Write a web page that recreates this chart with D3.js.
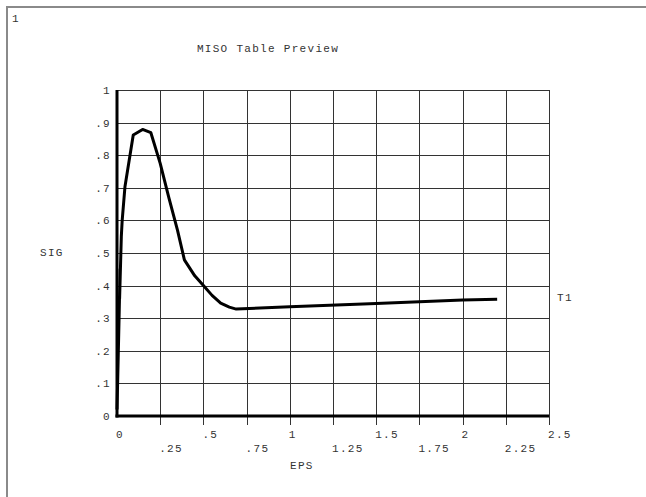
<!DOCTYPE html>
<html>
<head>
<meta charset="utf-8">
<script src="https://cdn.jsdelivr.net/npm/d3@7"></script>
<style>
  html, body { margin: 0; padding: 0; background: #ffffff; }
  text { font-family: "Liberation Mono", "Courier New", monospace; fill: #333; font-size: 11px; letter-spacing: 1.3px; }
</style>
</head>
<body>
<div id="content"></div>
<script>
// Curva MISO (EPS, SIG)
const eps = [0, 0.004, 0.012, 0.018, 0.015, 0.025, 0.03, 0.046, 0.094, 0.148, 0.196, 0.25, 0.3, 0.35, 0.39, 0.45, 0.5, 0.55, 0.6, 0.65, 0.69, 1.0, 1.5, 2.0, 2.2];
const sig = [0.02, 0.11, 0.3, 0.45, 0.36, 0.55, 0.6, 0.703, 0.862, 0.879, 0.869, 0.775, 0.67, 0.57, 0.479, 0.43, 0.4, 0.37, 0.346, 0.334, 0.328, 0.335, 0.345, 0.356, 0.358];

const xTicks = [0, 0.25, 0.5, 0.75, 1, 1.25, 1.5, 1.75, 2, 2.25, 2.5];
const xTickLabels = ['0', '.25', '.5', '.75', '1', '1.25', '1.5', '1.75', '2', '2.25', '2.5'];
const yTicks = [0, 0.1, 0.2, 0.3, 0.4, 0.5, 0.6, 0.7, 0.8, 0.9, 1];
const yTickLabels = ['0', '.1', '.2', '.3', '.4', '.5', '.6', '.7', '.8', '.9', '1'];

const width = 646, height = 497;
const plotLeft = 117, plotRight = 549, plotTop = 90, plotBottom = 416;

const svg = d3.select('#content')
    .append('svg')
    .attr('width', width)
    .attr('height', height);

// Marco gris de la ventana
svg.append('line')
    .attr('x1', 7).attr('y1', 6).attr('x2', 7).attr('y2', height)
    .attr('stroke', '#8a8a8a').attr('stroke-width', 2);
svg.append('line')
    .attr('x1', 6).attr('y1', 7).attr('x2', width).attr('y2', 7)
    .attr('stroke', '#8a8a8a').attr('stroke-width', 2);

const x = d3.scaleLinear().domain([0, 2.5]).range([plotLeft, plotRight]);
const y = d3.scaleLinear().domain([0, 1]).range([plotBottom, plotTop]);

// Rejilla (las verticales bajan un poco como marcas del eje X)
svg.append('g')
    .selectAll('line')
    .data(xTicks)
    .enter()
    .append('line')
    .attr('x1', d => Math.round(x(d)) + 0.5)
    .attr('x2', d => Math.round(x(d)) + 0.5)
    .attr('y1', plotTop)
    .attr('y2', d => d === 0 ? plotBottom : plotBottom + 9)
    .attr('stroke', '#333')
    .attr('stroke-width', 1);

svg.append('g')
    .selectAll('line')
    .data(yTicks)
    .enter()
    .append('line')
    .attr('x1', plotLeft)
    .attr('x2', plotRight)
    .attr('y1', d => Math.round(y(d)) + 0.5)
    .attr('y2', d => Math.round(y(d)) + 0.5)
    .attr('stroke', '#333')
    .attr('stroke-width', 1);

// Ejes gruesos
svg.append('line')
    .attr('x1', x(0)).attr('x2', x(0))
    .attr('y1', plotTop).attr('y2', plotBottom + 1.5)
    .attr('stroke', '#000').attr('stroke-width', 3);
svg.append('line')
    .attr('x1', x(0) - 1.5).attr('x2', plotRight)
    .attr('y1', plotBottom).attr('y2', plotBottom)
    .attr('stroke', '#000').attr('stroke-width', 3);

// Etiquetas del eje Y
svg.append('g')
    .selectAll('text')
    .data(yTicks)
    .enter()
    .append('text')
    .attr('x', plotLeft - 6)
    .attr('y', d => y(d) + 4)
    .attr('text-anchor', 'end')
    .text((d, i) => yTickLabels[i]);

// Etiquetas del eje X (alternadas en dos filas)
svg.append('g')
    .selectAll('text')
    .data(xTicks)
    .enter()
    .append('text')
    .attr('x', d => x(d) - 1)
    .attr('y', (d, i) => i % 2 === 0 ? 438 : 452)
    .text((d, i) => xTickLabels[i]);

// Curva
const line = d3.line()
    .x((d, i) => x(eps[i]))
    .y((d, i) => y(sig[i]));

svg.append('path')
    .datum(eps)
    .attr('d', line)
    .attr('fill', 'none')
    .attr('stroke', '#000')
    .attr('stroke-width', 3)
    .attr('stroke-linejoin', 'round');

// Textos
svg.append('text').attr('x', 12).attr('y', 22).text('1');

svg.append('text')
    .attr('x', 268).attr('y', 52)
    .attr('text-anchor', 'middle')
    .text('MISO Table Preview');

svg.append('text').attr('x', 40).attr('y', 256).text('SIG');

svg.append('text').attr('x', 557).attr('y', 301).text('T1');

svg.append('text').attr('x', 290).attr('y', 469).text('EPS');
</script>
</body>
</html>
